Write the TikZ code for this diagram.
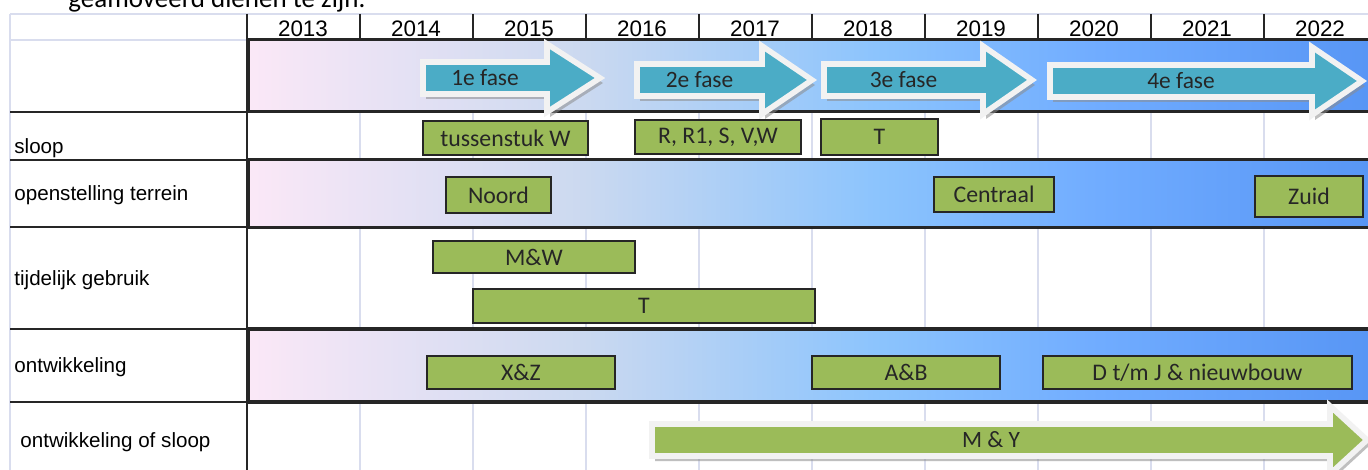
\documentclass[tikz,border=0pt]{standalone}
\usepackage{fontspec}
\setmainfont{Liberation Sans}
\newfontfamily\calibri{Carlito}
\usepackage{xcolor}
\usetikzlibrary{positioning}

\definecolor{fase}{HTML}{4BACC6}
\definecolor{taakgroen}{HTML}{9BBB59}
\definecolor{rooster}{HTML}{D9DDEE}
\definecolor{donker}{HTML}{262626}
\definecolor{bandA}{RGB}{251,232,247}
\definecolor{bandB}{RGB}{203,217,240}
\definecolor{bandC}{RGB}{140,196,253}
\definecolor{bandD}{RGB}{112,172,255}
\definecolor{bandE}{RGB}{88,150,245}
\pgfdeclarehorizontalshading{band}{100bp}{color(0bp)=(bandA); color(25bp)=(bandA);
  color(40bp)=(bandB); color(53bp)=(bandC); color(63bp)=(bandD); color(75bp)=(bandE);
  color(100bp)=(bandE)}

% taak: naam, midden x, midden y, breedte, hoogte (px), tekst
\newcommand\taak[6]{\node[taakbox, minimum width=#4*0.5pt, minimum height=#5*0.5pt] (#1) at (#2,#3) {#6};}
% pijl: naam, begin, kop, punt, midden y, tekst, kleur
\newcommand\pijl[7]{%
  \fill[black!45, opacity=.55, shift={(3,5)}] (#2,#5-16) -- (#3,#5-16) -- (#3,#5-34) -- (#4,#5)
    -- (#3,#5+34) -- (#3,#5+16) -- (#2,#5+16) -- cycle;
  \filldraw[fill=#7, draw=white!95!black, line width=2.8pt] (#2,#5-16) -- (#3,#5-16) -- (#3,#5-34)
    -- (#4,#5) -- (#3,#5+34) -- (#3,#5+16) -- (#2,#5+16) -- cycle;
  \node[fasetekst] (#1) at ({(#2+#3)/2},#5) {#6};}

\begin{document}
\begin{tikzpicture}[x=0.5pt, y=-0.5pt,
    grid/.style={rooster, line width=0.8pt},
    lijn/.style={donker, line width=1pt},
    jaar/.style={anchor=base, inner sep=0pt, font=\fontsize{11.2}{13}\selectfont},
    rij/.style={anchor=base west, inner sep=0pt, font=\fontsize{10.3}{12}\selectfont},
    taakbox/.style={draw=donker, line width=0.8pt, fill=taakgroen, inner sep=0pt,
      text=black!85, font=\calibri\fontsize{11.9}{13}\selectfont},
    fasetekst/.style={inner sep=0pt, text=black!85, font=\calibri\fontsize{11.7}{13}\selectfont}]
  \useasboundingbox (0,0) rectangle (1368,470);
  \clip (0,0) rectangle (1368,470);
  \fill[white] (0,0) rectangle (1368,470);

  % tekst boven de tabel
  \node[anchor=base west, inner sep=0pt, font=\calibri\fontsize{13.5}{16}\selectfont] (intro) at (68,8) {geamoveerd dienen te zijn.};

  % rooster
  \draw[grid] (10,14) -- (1368,14);
  \draw[grid] (10,14) -- (10,470);
  \draw[grid] (10,40) -- (247,40);
  \foreach \i in {1,...,9}
    \draw[grid] (247+113*\i,40) -- (247+113*\i,470);

  % banden met kleurverloop
  \foreach \a/\b in {40/112, 160/227, 329/402}
    \shade[shading=band] (247,\a) rectangle (1368,\b);
  \draw[lijn, line width=1.5pt] (1369,40) -- (248,40) -- (248,112) -- (1369,112);
  \draw[lijn, line width=1.5pt] (1369,160) -- (248,160) -- (248,227) -- (1369,227);
  \draw[lijn, line width=2pt] (1369,329) -- (248,329) -- (248,402) -- (1369,402);

  % lijnen in de labelkolom
  \foreach \y in {112,160,227,329,402}
    \draw[lijn] (10,\y) -- (247,\y);
  \draw[lijn] (247,14) -- (247,470);

  % jaren
  \foreach \j [count=\i from 0] in {2013,...,2022} {
    \draw[lijn] (247+113*\i,14) -- (247+113*\i,40);
    \node[jaar] (j\j) at (303+113*\i,37) {\j};
  }

  % rijlabels
  \node[rij] (sloop) at (14,154) {sloop};
  \node[rij] (open) at (14,200) {openstelling terrein};
  \node[rij] (tijd) at (14,285) {tijdelijk gebruik};
  \node[rij] (ontw) at (14,372) {ontwikkeling};
  \node[rij] (ontwsloop) at (20,447) {ontwikkeling of sloop};

  % fasen
  \pijl{fase1}{423}{547}{600}{78}{1e fase}{fase}
  \pijl{fase2}{637}{762}{812}{80}{2e fase}{fase}
  \pijl{fase3}{824}{983}{1032}{80}{3e fase}{fase}
  \pijl{fase4}{1050}{1312}{1362}{81}{4e fase}{fase}

  % sloop
  \taak{tussenstuk}{505.5}{138}{165}{34}{tussenstuk W}
  \taak{rrsvw}{718}{137}{166}{34}{R, R1, S, V,W}
  \taak{sloopT}{879.5}{137}{117}{36}{T}
  % openstelling terrein
  \taak{noord}{498.5}{195}{105}{36}{Noord}
  \taak{centraal}{994}{194.5}{120}{35}{Centraal}
  \taak{zuid}{1309}{196.5}{108}{41}{Zuid}
  % tijdelijk gebruik
  \taak{mw}{534}{257}{202}{32}{M\&W}
  \taak{tijdT}{644}{306}{342}{34}{T}
  % ontwikkeling
  \taak{xz}{521}{372.5}{188}{33}{X\&Z}
  \taak{ab}{906}{372.5}{188}{33}{A\&B}
  \taak{dj}{1197.5}{372.5}{309}{33}{D t/m J \& nieuwbouw}
  % ontwikkeling of sloop
  \pijl{my}{652}{1330}{1367}{440}{M \& Y}{taakgroen}

\end{tikzpicture}
\end{document}
